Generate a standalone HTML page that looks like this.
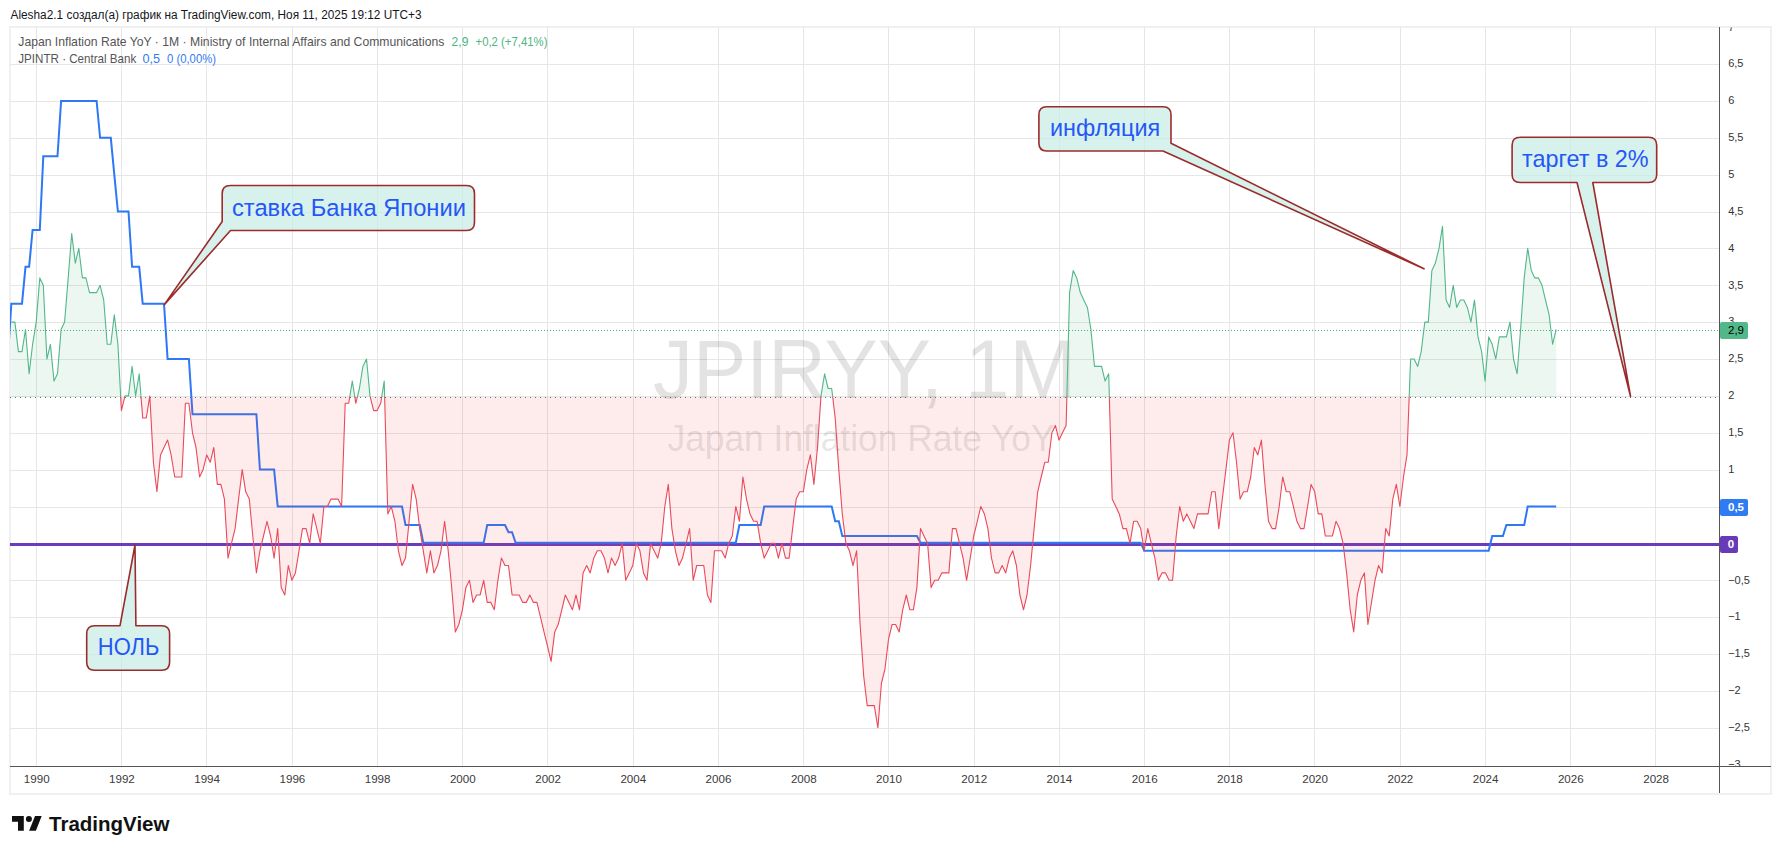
<!DOCTYPE html>
<html><head><meta charset="utf-8"><style>
html,body{margin:0;padding:0;background:#fff;width:1781px;height:854px;overflow:hidden}
svg{position:absolute;left:0;top:0;font-family:"Liberation Sans",sans-serif}
</style></head><body>
<svg width="1781" height="854" viewBox="0 0 1781 854">
<rect x="0" y="0" width="1781" height="854" fill="#fff"/>
<text x="10.5" y="19" font-size="12" fill="#131722" textLength="411" lengthAdjust="spacingAndGlyphs">Alesha2.1 создал(а) график на TradingView.com, Ноя 11, 2025 19:12 UTC+3</text>
<rect x="10" y="27" width="1761" height="767" fill="none" stroke="#f0f0f0" stroke-width="2"/>
<g shape-rendering="crispEdges"><path d="M36.5 27V766M121.5 27V766M206.5 27V766M292.5 27V766M377.5 27V766M462.5 27V766M547.5 27V766M633.5 27V766M718.5 27V766M803.5 27V766M888.5 27V766M974.5 27V766M1059.5 27V766M1144.5 27V766M1229.5 27V766M1314.5 27V766M1400.5 27V766M1485.5 27V766M1570.5 27V766M1655.5 27V766M10 64.5H1719M10 101.5H1719M10 138.5H1719M10 175.5H1719M10 212.5H1719M10 248.5H1719M10 285.5H1719M10 322.5H1719M10 359.5H1719M10 396.5H1719M10 433.5H1719M10 470.5H1719M10 507.5H1719M10 544.5H1719M10 580.5H1719M10 617.5H1719M10 654.5H1719M10 691.5H1719M10 728.5H1719" stroke="#e6e6e6" stroke-width="1" fill="none"/></g>
<text x="653" y="397.7" font-size="83" fill="rgba(0,0,0,0.11)" textLength="423" lengthAdjust="spacingAndGlyphs">JPIRYY, 1M</text>
<text x="667.5" y="450.5" font-size="37.5" fill="rgba(0,0,0,0.11)" textLength="387" lengthAdjust="spacingAndGlyphs">Japan Inflation Rate YoY</text>
<path d="M10 397.5H1719" stroke="#5d6b7e" stroke-width="1" stroke-dasharray="1 4" fill="none" shape-rendering="crispEdges"/>
<path d="M10 330.5H1719" stroke="#4caf7f" stroke-width="1" stroke-dasharray="1 2" fill="none" shape-rendering="crispEdges"/>
<rect x="10" y="543" width="1709" height="3" fill="#6a3bbd"/>
<clipPath id="plot"><rect x="10" y="27" width="1709" height="739"/></clipPath><g clip-path="url(#plot)"><polyline points="7.8,359.0 11.3,303.7 14.9,303.7 18.4,303.7 22.0,303.7 25.5,266.8 29.1,266.8 32.6,230.0 36.2,230.0 39.8,230.0 43.3,156.2 46.9,156.2 50.4,156.2 54.0,156.2 57.5,156.2 61.1,100.9 64.6,100.9 68.2,100.9 71.7,100.9 75.3,100.9 78.8,100.9 82.4,100.9 85.9,100.9 89.5,100.9 93.0,100.9 96.6,100.9 100.1,137.8 103.7,137.8 107.2,137.8 110.8,137.8 114.3,174.6 117.9,211.5 121.4,211.5 125.0,211.5 128.5,211.5 132.1,266.8 135.6,266.8 139.2,266.8 142.7,303.7 146.3,303.7 149.8,303.7 153.4,303.7 156.9,303.7 160.5,303.7 164.0,303.7 167.6,359.0 171.1,359.0 174.7,359.0 178.3,359.0 181.8,359.0 185.4,359.0 188.9,359.0 192.5,414.3 196.0,414.3 199.6,414.3 203.1,414.3 206.7,414.3 210.2,414.3 213.8,414.3 217.3,414.3 220.9,414.3 224.4,414.3 228.0,414.3 231.5,414.3 235.1,414.3 238.6,414.3 242.2,414.3 245.7,414.3 249.3,414.3 252.8,414.3 256.4,414.3 259.9,469.6 263.5,469.6 267.0,469.6 270.6,469.6 274.1,469.6 277.7,506.5 281.2,506.5 284.8,506.5 288.3,506.5 291.9,506.5 295.4,506.5 299.0,506.5 302.5,506.5 306.1,506.5 309.7,506.5 313.2,506.5 316.8,506.5 320.3,506.5 323.9,506.5 327.4,506.5 331.0,506.5 334.5,506.5 338.1,506.5 341.6,506.5 345.2,506.5 348.7,506.5 352.3,506.5 355.8,506.5 359.4,506.5 362.9,506.5 366.5,506.5 370.0,506.5 373.6,506.5 377.1,506.5 380.7,506.5 384.2,506.5 387.8,506.5 391.3,506.5 394.9,506.5 398.4,506.5 402.0,506.5 405.5,525.0 409.1,525.0 412.6,525.0 416.2,525.0 419.7,525.0 423.3,542.7 426.8,542.7 430.4,542.7 433.9,542.7 437.5,542.7 441.0,542.7 444.6,542.7 448.2,542.7 451.7,542.7 455.3,542.7 458.8,542.7 462.4,542.7 465.9,542.7 469.5,542.7 473.0,542.7 476.6,542.7 480.1,542.7 483.7,542.7 487.2,525.0 490.8,525.0 494.3,525.0 497.9,525.0 501.4,525.0 505.0,525.0 508.5,532.3 512.1,532.3 515.6,542.7 519.2,542.7 522.7,542.7 526.3,542.7 529.8,542.7 533.4,542.7 536.9,542.7 540.5,542.7 544.0,542.7 547.6,542.7 551.1,542.7 554.7,542.7 558.2,542.7 561.8,542.7 565.3,542.7 568.9,542.7 572.4,542.7 576.0,542.7 579.5,542.7 583.1,542.7 586.7,542.7 590.2,542.7 593.8,542.7 597.3,542.7 600.9,542.7 604.4,542.7 608.0,542.7 611.5,542.7 615.1,542.7 618.6,542.7 622.2,542.7 625.7,542.7 629.3,542.7 632.8,542.7 636.4,542.7 639.9,542.7 643.5,542.7 647.0,542.7 650.6,542.7 654.1,542.7 657.7,542.7 661.2,542.7 664.8,542.7 668.3,542.7 671.9,542.7 675.4,542.7 679.0,542.7 682.5,542.7 686.1,542.7 689.6,542.7 693.2,542.7 696.7,542.7 700.3,542.7 703.8,542.7 707.4,542.7 710.9,542.7 714.5,542.7 718.0,542.7 721.6,542.7 725.2,542.7 728.7,542.7 732.3,542.7 735.8,542.7 739.4,525.0 742.9,525.0 746.5,525.0 750.0,525.0 753.6,525.0 757.1,525.0 760.7,525.0 764.2,506.5 767.8,506.5 771.3,506.5 774.9,506.5 778.4,506.5 782.0,506.5 785.5,506.5 789.1,506.5 792.6,506.5 796.2,506.5 799.7,506.5 803.3,506.5 806.8,506.5 810.4,506.5 813.9,506.5 817.5,506.5 821.0,506.5 824.6,506.5 828.1,506.5 831.7,506.5 835.2,521.3 838.8,521.3 842.3,536.0 845.9,536.0 849.4,536.0 853.0,536.0 856.6,536.0 860.1,536.0 863.7,536.0 867.2,536.0 870.8,536.0 874.3,536.0 877.9,536.0 881.4,536.0 885.0,536.0 888.5,536.0 892.1,536.0 895.6,536.0 899.2,536.0 902.7,536.0 906.3,536.0 909.8,536.0 913.4,536.0 916.9,536.0 920.5,542.7 924.0,542.7 927.6,542.7 931.1,542.7 934.7,542.7 938.2,542.7 941.8,542.7 945.3,542.7 948.9,542.7 952.4,542.7 956.0,542.7 959.5,542.7 963.1,542.7 966.6,542.7 970.2,542.7 973.7,542.7 977.3,542.7 980.8,542.7 984.4,542.7 987.9,542.7 991.5,542.7 995.1,542.7 998.6,542.7 1002.2,542.7 1005.7,542.7 1009.3,542.7 1012.8,542.7 1016.4,542.7 1019.9,542.7 1023.5,542.7 1027.0,542.7 1030.6,542.7 1034.1,542.7 1037.7,542.7 1041.2,542.7 1044.8,542.7 1048.3,542.7 1051.9,542.7 1055.4,542.7 1059.0,542.7 1062.5,542.7 1066.1,542.7 1069.6,542.7 1073.2,542.7 1076.7,542.7 1080.3,542.7 1083.8,542.7 1087.4,542.7 1090.9,542.7 1094.5,542.7 1098.0,542.7 1101.6,542.7 1105.1,542.7 1108.7,542.7 1112.2,542.7 1115.8,542.7 1119.3,542.7 1122.9,542.7 1126.4,542.7 1130.0,542.7 1133.6,542.7 1137.1,542.7 1140.7,542.7 1144.2,550.8 1147.8,550.8 1151.3,550.8 1154.9,550.8 1158.4,550.8 1162.0,550.8 1165.5,550.8 1169.1,550.8 1172.6,550.8 1176.2,550.8 1179.7,550.8 1183.3,550.8 1186.8,550.8 1190.4,550.8 1193.9,550.8 1197.5,550.8 1201.0,550.8 1204.6,550.8 1208.1,550.8 1211.7,550.8 1215.2,550.8 1218.8,550.8 1222.3,550.8 1225.9,550.8 1229.4,550.8 1233.0,550.8 1236.5,550.8 1240.1,550.8 1243.6,550.8 1247.2,550.8 1250.7,550.8 1254.3,550.8 1257.8,550.8 1261.4,550.8 1264.9,550.8 1268.5,550.8 1272.1,550.8 1275.6,550.8 1279.2,550.8 1282.7,550.8 1286.3,550.8 1289.8,550.8 1293.4,550.8 1296.9,550.8 1300.5,550.8 1304.0,550.8 1307.6,550.8 1311.1,550.8 1314.7,550.8 1318.2,550.8 1321.8,550.8 1325.3,550.8 1328.9,550.8 1332.4,550.8 1336.0,550.8 1339.5,550.8 1343.1,550.8 1346.6,550.8 1350.2,550.8 1353.7,550.8 1357.3,550.8 1360.8,550.8 1364.4,550.8 1367.9,550.8 1371.5,550.8 1375.0,550.8 1378.6,550.8 1382.1,550.8 1385.7,550.8 1389.2,550.8 1392.8,550.8 1396.3,550.8 1399.9,550.8 1403.5,550.8 1407.0,550.8 1410.6,550.8 1414.1,550.8 1417.7,550.8 1421.2,550.8 1424.8,550.8 1428.3,550.8 1431.9,550.8 1435.4,550.8 1439.0,550.8 1442.5,550.8 1446.1,550.8 1449.6,550.8 1453.2,550.8 1456.7,550.8 1460.3,550.8 1463.8,550.8 1467.4,550.8 1470.9,550.8 1474.5,550.8 1478.0,550.8 1481.6,550.8 1485.1,550.8 1488.7,550.8 1492.2,536.0 1495.8,536.0 1499.3,536.0 1502.9,536.0 1506.4,525.0 1510.0,525.0 1513.5,525.0 1517.1,525.0 1520.6,525.0 1524.2,525.0 1527.7,506.5 1531.3,506.5 1534.8,506.5 1538.4,506.5 1542.0,506.5 1545.5,506.5 1549.1,506.5 1552.6,506.5 1556.2,506.5" fill="none" stroke="#2e78f5" stroke-width="2" stroke-linejoin="miter"/></g>
<clipPath id="above"><rect x="10" y="27" width="1709" height="370.0"/></clipPath>
<clipPath id="below"><rect x="10" y="397.0" width="1709" height="369.0"/></clipPath>
<g clip-path="url(#above)"><path d="M11.3,397.0 L11.3,322.1 14.9,322.1 18.4,351.6 22.0,351.6 25.5,329.5 29.1,373.8 32.6,344.3 36.2,322.1 39.8,277.9 43.3,285.3 46.9,359.0 50.4,344.3 54.0,381.1 57.5,373.8 61.1,329.5 64.6,322.1 68.2,277.9 71.7,233.6 75.3,263.1 78.8,248.4 82.4,277.9 85.9,277.9 89.5,292.6 93.0,292.6 96.6,292.6 100.1,285.3 103.7,300.0 107.2,344.3 110.8,344.3 114.3,314.8 117.9,344.3 121.4,410.6 125.0,395.9 128.5,395.9 132.1,366.4 135.6,395.9 139.2,373.8 142.7,418.0 146.3,418.0 149.8,395.9 153.4,462.3 156.9,491.8 160.5,454.9 164.0,447.5 167.6,440.1 171.1,454.9 174.7,477.0 178.3,477.0 181.8,477.0 185.4,403.3 188.9,403.3 192.5,432.8 196.0,447.5 199.6,477.0 203.1,469.6 206.7,454.9 210.2,462.3 213.8,447.5 217.3,484.4 220.9,484.4 224.4,499.1 228.0,558.1 231.5,543.4 235.1,528.6 238.6,499.1 242.2,469.6 245.7,491.8 249.3,499.1 252.8,536.0 256.4,572.9 259.9,550.8 263.5,536.0 267.0,521.3 270.6,536.0 274.1,558.1 277.7,528.6 281.2,587.6 284.8,595.0 288.3,565.5 291.9,580.3 295.4,572.9 299.0,550.8 302.5,528.6 306.1,528.6 309.7,543.4 313.2,513.9 316.8,528.6 320.3,543.4 323.9,506.5 327.4,506.5 331.0,499.1 334.5,499.1 338.1,499.1 341.6,506.5 345.2,403.3 348.7,403.3 352.3,381.1 355.8,403.3 359.4,388.5 362.9,366.4 366.5,359.0 370.0,395.9 373.6,410.6 377.1,410.6 380.7,403.3 384.2,381.1 387.8,513.9 391.3,506.5 394.9,521.3 398.4,550.8 402.0,565.5 405.5,558.1 409.1,521.3 412.6,484.4 416.2,499.1 419.7,528.6 423.3,550.8 426.8,572.9 430.4,550.8 433.9,572.9 437.5,565.5 441.0,550.8 444.6,521.3 448.2,550.8 451.7,587.6 455.3,631.9 458.8,624.5 462.4,609.8 465.9,587.6 469.5,580.3 473.0,602.4 476.6,595.0 480.1,595.0 483.7,580.3 487.2,602.4 490.8,602.4 494.3,609.8 497.9,580.3 501.4,558.1 505.0,565.5 508.5,565.5 512.1,595.0 515.6,595.0 519.2,595.0 522.7,602.4 526.3,602.4 529.8,595.0 533.4,602.4 536.9,602.4 540.5,617.1 544.0,631.9 547.6,646.6 551.1,661.4 554.7,631.9 558.2,624.5 561.8,609.8 565.3,595.0 568.9,602.4 572.4,609.8 576.0,595.0 579.5,609.8 583.1,572.9 586.7,565.5 590.2,572.9 593.8,558.1 597.3,550.8 600.9,550.8 604.4,558.1 608.0,572.9 611.5,558.1 615.1,565.5 618.6,558.1 622.2,543.4 625.7,580.3 629.3,572.9 632.8,565.5 636.4,543.4 639.9,550.8 643.5,572.9 647.0,580.3 650.6,543.4 654.1,550.8 657.7,558.1 661.2,543.4 664.8,506.5 668.3,484.4 671.9,528.6 675.4,550.8 679.0,565.5 682.5,558.1 686.1,543.4 689.6,528.6 693.2,580.3 696.7,565.5 700.3,565.5 703.8,565.5 707.4,595.0 710.9,602.4 714.5,550.8 718.0,550.8 721.6,550.8 725.2,558.1 728.7,543.4 732.3,536.0 735.8,506.5 739.4,521.3 742.9,477.0 746.5,499.1 750.0,513.9 753.6,521.3 757.1,521.3 760.7,543.4 764.2,558.1 767.8,550.8 771.3,543.4 774.9,543.4 778.4,558.1 782.0,543.4 785.5,558.1 789.1,558.1 792.6,528.6 796.2,499.1 799.7,491.8 803.3,491.8 806.8,469.6 810.4,454.9 813.9,484.4 817.5,447.5 821.0,395.9 824.6,373.8 828.1,388.5 831.7,388.5 835.2,418.0 838.8,469.6 842.3,513.9 845.9,543.4 849.4,550.8 853.0,565.5 856.6,550.8 860.1,624.5 863.7,676.1 867.2,705.6 870.8,705.6 874.3,705.6 877.9,727.8 881.4,683.5 885.0,668.8 888.5,639.3 892.1,624.5 895.6,624.5 899.2,631.9 902.7,609.8 906.3,595.0 909.8,609.8 913.4,609.8 916.9,587.6 920.5,528.6 924.0,536.0 927.6,543.4 931.1,587.6 934.7,580.3 938.2,580.3 941.8,572.9 945.3,572.9 948.9,572.9 952.4,528.6 956.0,528.6 959.5,543.4 963.1,558.1 966.6,580.3 970.2,558.1 973.7,536.0 977.3,521.3 980.8,506.5 984.4,513.9 987.9,528.6 991.5,558.1 995.1,572.9 998.6,572.9 1002.2,565.5 1005.7,572.9 1009.3,558.1 1012.8,550.8 1016.4,565.5 1019.9,595.0 1023.5,609.8 1027.0,595.0 1030.6,565.5 1034.1,528.6 1037.7,491.8 1041.2,477.0 1044.8,462.3 1048.3,462.3 1051.9,432.8 1055.4,425.4 1059.0,440.1 1062.5,432.8 1066.1,425.4 1069.6,292.6 1073.2,270.5 1076.7,277.9 1080.3,292.6 1083.8,300.0 1087.4,307.4 1090.9,329.5 1094.5,366.4 1098.0,366.4 1101.6,366.4 1105.1,381.1 1108.7,373.8 1112.2,499.1 1115.8,506.5 1119.3,513.9 1122.9,528.6 1126.4,528.6 1130.0,543.4 1133.6,521.3 1137.1,521.3 1140.7,528.6 1144.2,550.8 1147.8,528.6 1151.3,543.4 1154.9,558.1 1158.4,580.3 1162.0,572.9 1165.5,572.9 1169.1,580.3 1172.6,580.3 1176.2,536.0 1179.7,506.5 1183.3,521.3 1186.8,513.9 1190.4,521.3 1193.9,528.6 1197.5,513.9 1201.0,513.9 1204.6,513.9 1208.1,513.9 1211.7,491.8 1215.2,491.8 1218.8,528.6 1222.3,499.1 1225.9,469.6 1229.4,440.1 1233.0,432.8 1236.5,462.3 1240.1,499.1 1243.6,491.8 1247.2,491.8 1250.7,477.0 1254.3,447.5 1257.8,454.9 1261.4,440.1 1264.9,484.4 1268.5,521.3 1272.1,528.6 1275.6,528.6 1279.2,506.5 1282.7,477.0 1286.3,491.8 1289.8,491.8 1293.4,506.5 1296.9,521.3 1300.5,528.6 1304.0,528.6 1307.6,506.5 1311.1,484.4 1314.7,491.8 1318.2,513.9 1321.8,513.9 1325.3,536.0 1328.9,536.0 1332.4,536.0 1336.0,521.3 1339.5,528.6 1343.1,543.4 1346.6,572.9 1350.2,609.8 1353.7,631.9 1357.3,595.0 1360.8,580.3 1364.4,572.9 1367.9,624.5 1371.5,602.4 1375.0,580.3 1378.6,565.5 1382.1,572.9 1385.7,528.6 1389.2,536.0 1392.8,499.1 1396.3,484.4 1399.9,506.5 1403.5,477.0 1407.0,454.9 1410.6,359.0 1414.1,359.0 1417.7,366.4 1421.2,351.6 1424.8,322.1 1428.3,322.1 1431.9,270.5 1435.4,263.1 1439.0,248.4 1442.5,226.3 1446.1,300.0 1449.6,307.4 1453.2,285.3 1456.7,307.4 1460.3,300.0 1463.8,300.0 1467.4,307.4 1470.9,322.1 1474.5,300.0 1478.0,336.9 1481.6,351.6 1485.1,381.1 1488.7,336.9 1492.2,344.3 1495.8,359.0 1499.3,336.9 1502.9,336.9 1506.4,336.9 1510.0,322.1 1513.5,359.0 1517.1,373.8 1520.6,329.5 1524.2,277.9 1527.7,248.4 1531.3,270.5 1534.8,277.9 1538.4,277.9 1542.0,285.3 1545.5,300.0 1549.1,314.8 1552.6,344.3 1556.2,329.5 L1556.2,397.0 Z" fill="rgba(76,175,120,0.10)"/><polyline points="11.3,322.1 14.9,322.1 18.4,351.6 22.0,351.6 25.5,329.5 29.1,373.8 32.6,344.3 36.2,322.1 39.8,277.9 43.3,285.3 46.9,359.0 50.4,344.3 54.0,381.1 57.5,373.8 61.1,329.5 64.6,322.1 68.2,277.9 71.7,233.6 75.3,263.1 78.8,248.4 82.4,277.9 85.9,277.9 89.5,292.6 93.0,292.6 96.6,292.6 100.1,285.3 103.7,300.0 107.2,344.3 110.8,344.3 114.3,314.8 117.9,344.3 121.4,410.6 125.0,395.9 128.5,395.9 132.1,366.4 135.6,395.9 139.2,373.8 142.7,418.0 146.3,418.0 149.8,395.9 153.4,462.3 156.9,491.8 160.5,454.9 164.0,447.5 167.6,440.1 171.1,454.9 174.7,477.0 178.3,477.0 181.8,477.0 185.4,403.3 188.9,403.3 192.5,432.8 196.0,447.5 199.6,477.0 203.1,469.6 206.7,454.9 210.2,462.3 213.8,447.5 217.3,484.4 220.9,484.4 224.4,499.1 228.0,558.1 231.5,543.4 235.1,528.6 238.6,499.1 242.2,469.6 245.7,491.8 249.3,499.1 252.8,536.0 256.4,572.9 259.9,550.8 263.5,536.0 267.0,521.3 270.6,536.0 274.1,558.1 277.7,528.6 281.2,587.6 284.8,595.0 288.3,565.5 291.9,580.3 295.4,572.9 299.0,550.8 302.5,528.6 306.1,528.6 309.7,543.4 313.2,513.9 316.8,528.6 320.3,543.4 323.9,506.5 327.4,506.5 331.0,499.1 334.5,499.1 338.1,499.1 341.6,506.5 345.2,403.3 348.7,403.3 352.3,381.1 355.8,403.3 359.4,388.5 362.9,366.4 366.5,359.0 370.0,395.9 373.6,410.6 377.1,410.6 380.7,403.3 384.2,381.1 387.8,513.9 391.3,506.5 394.9,521.3 398.4,550.8 402.0,565.5 405.5,558.1 409.1,521.3 412.6,484.4 416.2,499.1 419.7,528.6 423.3,550.8 426.8,572.9 430.4,550.8 433.9,572.9 437.5,565.5 441.0,550.8 444.6,521.3 448.2,550.8 451.7,587.6 455.3,631.9 458.8,624.5 462.4,609.8 465.9,587.6 469.5,580.3 473.0,602.4 476.6,595.0 480.1,595.0 483.7,580.3 487.2,602.4 490.8,602.4 494.3,609.8 497.9,580.3 501.4,558.1 505.0,565.5 508.5,565.5 512.1,595.0 515.6,595.0 519.2,595.0 522.7,602.4 526.3,602.4 529.8,595.0 533.4,602.4 536.9,602.4 540.5,617.1 544.0,631.9 547.6,646.6 551.1,661.4 554.7,631.9 558.2,624.5 561.8,609.8 565.3,595.0 568.9,602.4 572.4,609.8 576.0,595.0 579.5,609.8 583.1,572.9 586.7,565.5 590.2,572.9 593.8,558.1 597.3,550.8 600.9,550.8 604.4,558.1 608.0,572.9 611.5,558.1 615.1,565.5 618.6,558.1 622.2,543.4 625.7,580.3 629.3,572.9 632.8,565.5 636.4,543.4 639.9,550.8 643.5,572.9 647.0,580.3 650.6,543.4 654.1,550.8 657.7,558.1 661.2,543.4 664.8,506.5 668.3,484.4 671.9,528.6 675.4,550.8 679.0,565.5 682.5,558.1 686.1,543.4 689.6,528.6 693.2,580.3 696.7,565.5 700.3,565.5 703.8,565.5 707.4,595.0 710.9,602.4 714.5,550.8 718.0,550.8 721.6,550.8 725.2,558.1 728.7,543.4 732.3,536.0 735.8,506.5 739.4,521.3 742.9,477.0 746.5,499.1 750.0,513.9 753.6,521.3 757.1,521.3 760.7,543.4 764.2,558.1 767.8,550.8 771.3,543.4 774.9,543.4 778.4,558.1 782.0,543.4 785.5,558.1 789.1,558.1 792.6,528.6 796.2,499.1 799.7,491.8 803.3,491.8 806.8,469.6 810.4,454.9 813.9,484.4 817.5,447.5 821.0,395.9 824.6,373.8 828.1,388.5 831.7,388.5 835.2,418.0 838.8,469.6 842.3,513.9 845.9,543.4 849.4,550.8 853.0,565.5 856.6,550.8 860.1,624.5 863.7,676.1 867.2,705.6 870.8,705.6 874.3,705.6 877.9,727.8 881.4,683.5 885.0,668.8 888.5,639.3 892.1,624.5 895.6,624.5 899.2,631.9 902.7,609.8 906.3,595.0 909.8,609.8 913.4,609.8 916.9,587.6 920.5,528.6 924.0,536.0 927.6,543.4 931.1,587.6 934.7,580.3 938.2,580.3 941.8,572.9 945.3,572.9 948.9,572.9 952.4,528.6 956.0,528.6 959.5,543.4 963.1,558.1 966.6,580.3 970.2,558.1 973.7,536.0 977.3,521.3 980.8,506.5 984.4,513.9 987.9,528.6 991.5,558.1 995.1,572.9 998.6,572.9 1002.2,565.5 1005.7,572.9 1009.3,558.1 1012.8,550.8 1016.4,565.5 1019.9,595.0 1023.5,609.8 1027.0,595.0 1030.6,565.5 1034.1,528.6 1037.7,491.8 1041.2,477.0 1044.8,462.3 1048.3,462.3 1051.9,432.8 1055.4,425.4 1059.0,440.1 1062.5,432.8 1066.1,425.4 1069.6,292.6 1073.2,270.5 1076.7,277.9 1080.3,292.6 1083.8,300.0 1087.4,307.4 1090.9,329.5 1094.5,366.4 1098.0,366.4 1101.6,366.4 1105.1,381.1 1108.7,373.8 1112.2,499.1 1115.8,506.5 1119.3,513.9 1122.9,528.6 1126.4,528.6 1130.0,543.4 1133.6,521.3 1137.1,521.3 1140.7,528.6 1144.2,550.8 1147.8,528.6 1151.3,543.4 1154.9,558.1 1158.4,580.3 1162.0,572.9 1165.5,572.9 1169.1,580.3 1172.6,580.3 1176.2,536.0 1179.7,506.5 1183.3,521.3 1186.8,513.9 1190.4,521.3 1193.9,528.6 1197.5,513.9 1201.0,513.9 1204.6,513.9 1208.1,513.9 1211.7,491.8 1215.2,491.8 1218.8,528.6 1222.3,499.1 1225.9,469.6 1229.4,440.1 1233.0,432.8 1236.5,462.3 1240.1,499.1 1243.6,491.8 1247.2,491.8 1250.7,477.0 1254.3,447.5 1257.8,454.9 1261.4,440.1 1264.9,484.4 1268.5,521.3 1272.1,528.6 1275.6,528.6 1279.2,506.5 1282.7,477.0 1286.3,491.8 1289.8,491.8 1293.4,506.5 1296.9,521.3 1300.5,528.6 1304.0,528.6 1307.6,506.5 1311.1,484.4 1314.7,491.8 1318.2,513.9 1321.8,513.9 1325.3,536.0 1328.9,536.0 1332.4,536.0 1336.0,521.3 1339.5,528.6 1343.1,543.4 1346.6,572.9 1350.2,609.8 1353.7,631.9 1357.3,595.0 1360.8,580.3 1364.4,572.9 1367.9,624.5 1371.5,602.4 1375.0,580.3 1378.6,565.5 1382.1,572.9 1385.7,528.6 1389.2,536.0 1392.8,499.1 1396.3,484.4 1399.9,506.5 1403.5,477.0 1407.0,454.9 1410.6,359.0 1414.1,359.0 1417.7,366.4 1421.2,351.6 1424.8,322.1 1428.3,322.1 1431.9,270.5 1435.4,263.1 1439.0,248.4 1442.5,226.3 1446.1,300.0 1449.6,307.4 1453.2,285.3 1456.7,307.4 1460.3,300.0 1463.8,300.0 1467.4,307.4 1470.9,322.1 1474.5,300.0 1478.0,336.9 1481.6,351.6 1485.1,381.1 1488.7,336.9 1492.2,344.3 1495.8,359.0 1499.3,336.9 1502.9,336.9 1506.4,336.9 1510.0,322.1 1513.5,359.0 1517.1,373.8 1520.6,329.5 1524.2,277.9 1527.7,248.4 1531.3,270.5 1534.8,277.9 1538.4,277.9 1542.0,285.3 1545.5,300.0 1549.1,314.8 1552.6,344.3 1556.2,329.5" fill="none" stroke="#52b78a" stroke-width="1.1" stroke-linejoin="round"/></g>
<g clip-path="url(#below)"><path d="M11.3,397.0 L11.3,322.1 14.9,322.1 18.4,351.6 22.0,351.6 25.5,329.5 29.1,373.8 32.6,344.3 36.2,322.1 39.8,277.9 43.3,285.3 46.9,359.0 50.4,344.3 54.0,381.1 57.5,373.8 61.1,329.5 64.6,322.1 68.2,277.9 71.7,233.6 75.3,263.1 78.8,248.4 82.4,277.9 85.9,277.9 89.5,292.6 93.0,292.6 96.6,292.6 100.1,285.3 103.7,300.0 107.2,344.3 110.8,344.3 114.3,314.8 117.9,344.3 121.4,410.6 125.0,395.9 128.5,395.9 132.1,366.4 135.6,395.9 139.2,373.8 142.7,418.0 146.3,418.0 149.8,395.9 153.4,462.3 156.9,491.8 160.5,454.9 164.0,447.5 167.6,440.1 171.1,454.9 174.7,477.0 178.3,477.0 181.8,477.0 185.4,403.3 188.9,403.3 192.5,432.8 196.0,447.5 199.6,477.0 203.1,469.6 206.7,454.9 210.2,462.3 213.8,447.5 217.3,484.4 220.9,484.4 224.4,499.1 228.0,558.1 231.5,543.4 235.1,528.6 238.6,499.1 242.2,469.6 245.7,491.8 249.3,499.1 252.8,536.0 256.4,572.9 259.9,550.8 263.5,536.0 267.0,521.3 270.6,536.0 274.1,558.1 277.7,528.6 281.2,587.6 284.8,595.0 288.3,565.5 291.9,580.3 295.4,572.9 299.0,550.8 302.5,528.6 306.1,528.6 309.7,543.4 313.2,513.9 316.8,528.6 320.3,543.4 323.9,506.5 327.4,506.5 331.0,499.1 334.5,499.1 338.1,499.1 341.6,506.5 345.2,403.3 348.7,403.3 352.3,381.1 355.8,403.3 359.4,388.5 362.9,366.4 366.5,359.0 370.0,395.9 373.6,410.6 377.1,410.6 380.7,403.3 384.2,381.1 387.8,513.9 391.3,506.5 394.9,521.3 398.4,550.8 402.0,565.5 405.5,558.1 409.1,521.3 412.6,484.4 416.2,499.1 419.7,528.6 423.3,550.8 426.8,572.9 430.4,550.8 433.9,572.9 437.5,565.5 441.0,550.8 444.6,521.3 448.2,550.8 451.7,587.6 455.3,631.9 458.8,624.5 462.4,609.8 465.9,587.6 469.5,580.3 473.0,602.4 476.6,595.0 480.1,595.0 483.7,580.3 487.2,602.4 490.8,602.4 494.3,609.8 497.9,580.3 501.4,558.1 505.0,565.5 508.5,565.5 512.1,595.0 515.6,595.0 519.2,595.0 522.7,602.4 526.3,602.4 529.8,595.0 533.4,602.4 536.9,602.4 540.5,617.1 544.0,631.9 547.6,646.6 551.1,661.4 554.7,631.9 558.2,624.5 561.8,609.8 565.3,595.0 568.9,602.4 572.4,609.8 576.0,595.0 579.5,609.8 583.1,572.9 586.7,565.5 590.2,572.9 593.8,558.1 597.3,550.8 600.9,550.8 604.4,558.1 608.0,572.9 611.5,558.1 615.1,565.5 618.6,558.1 622.2,543.4 625.7,580.3 629.3,572.9 632.8,565.5 636.4,543.4 639.9,550.8 643.5,572.9 647.0,580.3 650.6,543.4 654.1,550.8 657.7,558.1 661.2,543.4 664.8,506.5 668.3,484.4 671.9,528.6 675.4,550.8 679.0,565.5 682.5,558.1 686.1,543.4 689.6,528.6 693.2,580.3 696.7,565.5 700.3,565.5 703.8,565.5 707.4,595.0 710.9,602.4 714.5,550.8 718.0,550.8 721.6,550.8 725.2,558.1 728.7,543.4 732.3,536.0 735.8,506.5 739.4,521.3 742.9,477.0 746.5,499.1 750.0,513.9 753.6,521.3 757.1,521.3 760.7,543.4 764.2,558.1 767.8,550.8 771.3,543.4 774.9,543.4 778.4,558.1 782.0,543.4 785.5,558.1 789.1,558.1 792.6,528.6 796.2,499.1 799.7,491.8 803.3,491.8 806.8,469.6 810.4,454.9 813.9,484.4 817.5,447.5 821.0,395.9 824.6,373.8 828.1,388.5 831.7,388.5 835.2,418.0 838.8,469.6 842.3,513.9 845.9,543.4 849.4,550.8 853.0,565.5 856.6,550.8 860.1,624.5 863.7,676.1 867.2,705.6 870.8,705.6 874.3,705.6 877.9,727.8 881.4,683.5 885.0,668.8 888.5,639.3 892.1,624.5 895.6,624.5 899.2,631.9 902.7,609.8 906.3,595.0 909.8,609.8 913.4,609.8 916.9,587.6 920.5,528.6 924.0,536.0 927.6,543.4 931.1,587.6 934.7,580.3 938.2,580.3 941.8,572.9 945.3,572.9 948.9,572.9 952.4,528.6 956.0,528.6 959.5,543.4 963.1,558.1 966.6,580.3 970.2,558.1 973.7,536.0 977.3,521.3 980.8,506.5 984.4,513.9 987.9,528.6 991.5,558.1 995.1,572.9 998.6,572.9 1002.2,565.5 1005.7,572.9 1009.3,558.1 1012.8,550.8 1016.4,565.5 1019.9,595.0 1023.5,609.8 1027.0,595.0 1030.6,565.5 1034.1,528.6 1037.7,491.8 1041.2,477.0 1044.8,462.3 1048.3,462.3 1051.9,432.8 1055.4,425.4 1059.0,440.1 1062.5,432.8 1066.1,425.4 1069.6,292.6 1073.2,270.5 1076.7,277.9 1080.3,292.6 1083.8,300.0 1087.4,307.4 1090.9,329.5 1094.5,366.4 1098.0,366.4 1101.6,366.4 1105.1,381.1 1108.7,373.8 1112.2,499.1 1115.8,506.5 1119.3,513.9 1122.9,528.6 1126.4,528.6 1130.0,543.4 1133.6,521.3 1137.1,521.3 1140.7,528.6 1144.2,550.8 1147.8,528.6 1151.3,543.4 1154.9,558.1 1158.4,580.3 1162.0,572.9 1165.5,572.9 1169.1,580.3 1172.6,580.3 1176.2,536.0 1179.7,506.5 1183.3,521.3 1186.8,513.9 1190.4,521.3 1193.9,528.6 1197.5,513.9 1201.0,513.9 1204.6,513.9 1208.1,513.9 1211.7,491.8 1215.2,491.8 1218.8,528.6 1222.3,499.1 1225.9,469.6 1229.4,440.1 1233.0,432.8 1236.5,462.3 1240.1,499.1 1243.6,491.8 1247.2,491.8 1250.7,477.0 1254.3,447.5 1257.8,454.9 1261.4,440.1 1264.9,484.4 1268.5,521.3 1272.1,528.6 1275.6,528.6 1279.2,506.5 1282.7,477.0 1286.3,491.8 1289.8,491.8 1293.4,506.5 1296.9,521.3 1300.5,528.6 1304.0,528.6 1307.6,506.5 1311.1,484.4 1314.7,491.8 1318.2,513.9 1321.8,513.9 1325.3,536.0 1328.9,536.0 1332.4,536.0 1336.0,521.3 1339.5,528.6 1343.1,543.4 1346.6,572.9 1350.2,609.8 1353.7,631.9 1357.3,595.0 1360.8,580.3 1364.4,572.9 1367.9,624.5 1371.5,602.4 1375.0,580.3 1378.6,565.5 1382.1,572.9 1385.7,528.6 1389.2,536.0 1392.8,499.1 1396.3,484.4 1399.9,506.5 1403.5,477.0 1407.0,454.9 1410.6,359.0 1414.1,359.0 1417.7,366.4 1421.2,351.6 1424.8,322.1 1428.3,322.1 1431.9,270.5 1435.4,263.1 1439.0,248.4 1442.5,226.3 1446.1,300.0 1449.6,307.4 1453.2,285.3 1456.7,307.4 1460.3,300.0 1463.8,300.0 1467.4,307.4 1470.9,322.1 1474.5,300.0 1478.0,336.9 1481.6,351.6 1485.1,381.1 1488.7,336.9 1492.2,344.3 1495.8,359.0 1499.3,336.9 1502.9,336.9 1506.4,336.9 1510.0,322.1 1513.5,359.0 1517.1,373.8 1520.6,329.5 1524.2,277.9 1527.7,248.4 1531.3,270.5 1534.8,277.9 1538.4,277.9 1542.0,285.3 1545.5,300.0 1549.1,314.8 1552.6,344.3 1556.2,329.5 L1556.2,397.0 Z" fill="rgba(242,54,69,0.10)"/><polyline points="11.3,322.1 14.9,322.1 18.4,351.6 22.0,351.6 25.5,329.5 29.1,373.8 32.6,344.3 36.2,322.1 39.8,277.9 43.3,285.3 46.9,359.0 50.4,344.3 54.0,381.1 57.5,373.8 61.1,329.5 64.6,322.1 68.2,277.9 71.7,233.6 75.3,263.1 78.8,248.4 82.4,277.9 85.9,277.9 89.5,292.6 93.0,292.6 96.6,292.6 100.1,285.3 103.7,300.0 107.2,344.3 110.8,344.3 114.3,314.8 117.9,344.3 121.4,410.6 125.0,395.9 128.5,395.9 132.1,366.4 135.6,395.9 139.2,373.8 142.7,418.0 146.3,418.0 149.8,395.9 153.4,462.3 156.9,491.8 160.5,454.9 164.0,447.5 167.6,440.1 171.1,454.9 174.7,477.0 178.3,477.0 181.8,477.0 185.4,403.3 188.9,403.3 192.5,432.8 196.0,447.5 199.6,477.0 203.1,469.6 206.7,454.9 210.2,462.3 213.8,447.5 217.3,484.4 220.9,484.4 224.4,499.1 228.0,558.1 231.5,543.4 235.1,528.6 238.6,499.1 242.2,469.6 245.7,491.8 249.3,499.1 252.8,536.0 256.4,572.9 259.9,550.8 263.5,536.0 267.0,521.3 270.6,536.0 274.1,558.1 277.7,528.6 281.2,587.6 284.8,595.0 288.3,565.5 291.9,580.3 295.4,572.9 299.0,550.8 302.5,528.6 306.1,528.6 309.7,543.4 313.2,513.9 316.8,528.6 320.3,543.4 323.9,506.5 327.4,506.5 331.0,499.1 334.5,499.1 338.1,499.1 341.6,506.5 345.2,403.3 348.7,403.3 352.3,381.1 355.8,403.3 359.4,388.5 362.9,366.4 366.5,359.0 370.0,395.9 373.6,410.6 377.1,410.6 380.7,403.3 384.2,381.1 387.8,513.9 391.3,506.5 394.9,521.3 398.4,550.8 402.0,565.5 405.5,558.1 409.1,521.3 412.6,484.4 416.2,499.1 419.7,528.6 423.3,550.8 426.8,572.9 430.4,550.8 433.9,572.9 437.5,565.5 441.0,550.8 444.6,521.3 448.2,550.8 451.7,587.6 455.3,631.9 458.8,624.5 462.4,609.8 465.9,587.6 469.5,580.3 473.0,602.4 476.6,595.0 480.1,595.0 483.7,580.3 487.2,602.4 490.8,602.4 494.3,609.8 497.9,580.3 501.4,558.1 505.0,565.5 508.5,565.5 512.1,595.0 515.6,595.0 519.2,595.0 522.7,602.4 526.3,602.4 529.8,595.0 533.4,602.4 536.9,602.4 540.5,617.1 544.0,631.9 547.6,646.6 551.1,661.4 554.7,631.9 558.2,624.5 561.8,609.8 565.3,595.0 568.9,602.4 572.4,609.8 576.0,595.0 579.5,609.8 583.1,572.9 586.7,565.5 590.2,572.9 593.8,558.1 597.3,550.8 600.9,550.8 604.4,558.1 608.0,572.9 611.5,558.1 615.1,565.5 618.6,558.1 622.2,543.4 625.7,580.3 629.3,572.9 632.8,565.5 636.4,543.4 639.9,550.8 643.5,572.9 647.0,580.3 650.6,543.4 654.1,550.8 657.7,558.1 661.2,543.4 664.8,506.5 668.3,484.4 671.9,528.6 675.4,550.8 679.0,565.5 682.5,558.1 686.1,543.4 689.6,528.6 693.2,580.3 696.7,565.5 700.3,565.5 703.8,565.5 707.4,595.0 710.9,602.4 714.5,550.8 718.0,550.8 721.6,550.8 725.2,558.1 728.7,543.4 732.3,536.0 735.8,506.5 739.4,521.3 742.9,477.0 746.5,499.1 750.0,513.9 753.6,521.3 757.1,521.3 760.7,543.4 764.2,558.1 767.8,550.8 771.3,543.4 774.9,543.4 778.4,558.1 782.0,543.4 785.5,558.1 789.1,558.1 792.6,528.6 796.2,499.1 799.7,491.8 803.3,491.8 806.8,469.6 810.4,454.9 813.9,484.4 817.5,447.5 821.0,395.9 824.6,373.8 828.1,388.5 831.7,388.5 835.2,418.0 838.8,469.6 842.3,513.9 845.9,543.4 849.4,550.8 853.0,565.5 856.6,550.8 860.1,624.5 863.7,676.1 867.2,705.6 870.8,705.6 874.3,705.6 877.9,727.8 881.4,683.5 885.0,668.8 888.5,639.3 892.1,624.5 895.6,624.5 899.2,631.9 902.7,609.8 906.3,595.0 909.8,609.8 913.4,609.8 916.9,587.6 920.5,528.6 924.0,536.0 927.6,543.4 931.1,587.6 934.7,580.3 938.2,580.3 941.8,572.9 945.3,572.9 948.9,572.9 952.4,528.6 956.0,528.6 959.5,543.4 963.1,558.1 966.6,580.3 970.2,558.1 973.7,536.0 977.3,521.3 980.8,506.5 984.4,513.9 987.9,528.6 991.5,558.1 995.1,572.9 998.6,572.9 1002.2,565.5 1005.7,572.9 1009.3,558.1 1012.8,550.8 1016.4,565.5 1019.9,595.0 1023.5,609.8 1027.0,595.0 1030.6,565.5 1034.1,528.6 1037.7,491.8 1041.2,477.0 1044.8,462.3 1048.3,462.3 1051.9,432.8 1055.4,425.4 1059.0,440.1 1062.5,432.8 1066.1,425.4 1069.6,292.6 1073.2,270.5 1076.7,277.9 1080.3,292.6 1083.8,300.0 1087.4,307.4 1090.9,329.5 1094.5,366.4 1098.0,366.4 1101.6,366.4 1105.1,381.1 1108.7,373.8 1112.2,499.1 1115.8,506.5 1119.3,513.9 1122.9,528.6 1126.4,528.6 1130.0,543.4 1133.6,521.3 1137.1,521.3 1140.7,528.6 1144.2,550.8 1147.8,528.6 1151.3,543.4 1154.9,558.1 1158.4,580.3 1162.0,572.9 1165.5,572.9 1169.1,580.3 1172.6,580.3 1176.2,536.0 1179.7,506.5 1183.3,521.3 1186.8,513.9 1190.4,521.3 1193.9,528.6 1197.5,513.9 1201.0,513.9 1204.6,513.9 1208.1,513.9 1211.7,491.8 1215.2,491.8 1218.8,528.6 1222.3,499.1 1225.9,469.6 1229.4,440.1 1233.0,432.8 1236.5,462.3 1240.1,499.1 1243.6,491.8 1247.2,491.8 1250.7,477.0 1254.3,447.5 1257.8,454.9 1261.4,440.1 1264.9,484.4 1268.5,521.3 1272.1,528.6 1275.6,528.6 1279.2,506.5 1282.7,477.0 1286.3,491.8 1289.8,491.8 1293.4,506.5 1296.9,521.3 1300.5,528.6 1304.0,528.6 1307.6,506.5 1311.1,484.4 1314.7,491.8 1318.2,513.9 1321.8,513.9 1325.3,536.0 1328.9,536.0 1332.4,536.0 1336.0,521.3 1339.5,528.6 1343.1,543.4 1346.6,572.9 1350.2,609.8 1353.7,631.9 1357.3,595.0 1360.8,580.3 1364.4,572.9 1367.9,624.5 1371.5,602.4 1375.0,580.3 1378.6,565.5 1382.1,572.9 1385.7,528.6 1389.2,536.0 1392.8,499.1 1396.3,484.4 1399.9,506.5 1403.5,477.0 1407.0,454.9 1410.6,359.0 1414.1,359.0 1417.7,366.4 1421.2,351.6 1424.8,322.1 1428.3,322.1 1431.9,270.5 1435.4,263.1 1439.0,248.4 1442.5,226.3 1446.1,300.0 1449.6,307.4 1453.2,285.3 1456.7,307.4 1460.3,300.0 1463.8,300.0 1467.4,307.4 1470.9,322.1 1474.5,300.0 1478.0,336.9 1481.6,351.6 1485.1,381.1 1488.7,336.9 1492.2,344.3 1495.8,359.0 1499.3,336.9 1502.9,336.9 1506.4,336.9 1510.0,322.1 1513.5,359.0 1517.1,373.8 1520.6,329.5 1524.2,277.9 1527.7,248.4 1531.3,270.5 1534.8,277.9 1538.4,277.9 1542.0,285.3 1545.5,300.0 1549.1,314.8 1552.6,344.3 1556.2,329.5" fill="none" stroke="#ea4a5a" stroke-width="1.1" stroke-linejoin="round"/></g>

<g font-size="11.6" fill="#3a3a3a"><text x="36.7" y="782.5" text-anchor="middle">1990</text><text x="121.9" y="782.5" text-anchor="middle">1992</text><text x="207.1" y="782.5" text-anchor="middle">1994</text><text x="292.4" y="782.5" text-anchor="middle">1996</text><text x="377.6" y="782.5" text-anchor="middle">1998</text><text x="462.8" y="782.5" text-anchor="middle">2000</text><text x="548.1" y="782.5" text-anchor="middle">2002</text><text x="633.3" y="782.5" text-anchor="middle">2004</text><text x="718.5" y="782.5" text-anchor="middle">2006</text><text x="803.8" y="782.5" text-anchor="middle">2008</text><text x="889.0" y="782.5" text-anchor="middle">2010</text><text x="974.2" y="782.5" text-anchor="middle">2012</text><text x="1059.4" y="782.5" text-anchor="middle">2014</text><text x="1144.7" y="782.5" text-anchor="middle">2016</text><text x="1229.9" y="782.5" text-anchor="middle">2018</text><text x="1315.1" y="782.5" text-anchor="middle">2020</text><text x="1400.4" y="782.5" text-anchor="middle">2022</text><text x="1485.6" y="782.5" text-anchor="middle">2024</text><text x="1570.8" y="782.5" text-anchor="middle">2026</text><text x="1656.1" y="782.5" text-anchor="middle">2028</text></g>
<g shape-rendering="crispEdges"><path d="M1719.5 27V793M10 766.5H1771" stroke="#555" stroke-width="1"/></g>
<clipPath id="yax"><rect x="1720" y="27.5" width="51" height="738.5"/></clipPath><g font-size="11" fill="#333" clip-path="url(#yax)"><text x="1728.2" y="767.9">−3</text><text x="1728.2" y="731.0">−2,5</text><text x="1728.2" y="694.1">−2</text><text x="1728.2" y="657.2">−1,5</text><text x="1728.2" y="620.4">−1</text><text x="1728.2" y="583.5">−0,5</text><text x="1728.2" y="546.6">0</text><text x="1728.2" y="509.7">0,5</text><text x="1728.2" y="472.8">1</text><text x="1728.2" y="436.0">1,5</text><text x="1728.2" y="399.1">2</text><text x="1728.2" y="362.2">2,5</text><text x="1728.2" y="325.3">3</text><text x="1728.2" y="288.5">3,5</text><text x="1728.2" y="251.6">4</text><text x="1728.2" y="214.7">4,5</text><text x="1728.2" y="177.8">5</text><text x="1728.2" y="141.0">5,5</text><text x="1728.2" y="104.1">6</text><text x="1728.2" y="67.2">6,5</text><text x="1728.2" y="31.3">7</text></g>
<rect x="1720" y="322" width="28" height="17" rx="2" fill="#52b889"/>
<text x="1728" y="333.8" font-size="11.5" fill="#000">2,9</text>
<rect x="1720" y="499" width="28" height="17" rx="2" fill="#2f7bf4"/>
<text x="1728" y="511" font-size="11.5" fill="#fff" font-weight="bold">0,5</text>
<rect x="1720" y="536" width="18" height="17" rx="2" fill="#673ab7"/>
<text x="1727.8" y="548" font-size="11.5" fill="#fff" font-weight="bold">0</text>
<text x="18.3" y="45.7" font-size="12.17" fill="#555" textLength="426" lengthAdjust="spacingAndGlyphs">Japan Inflation Rate YoY · 1M · Ministry of Internal Affairs and Communications</text>
<text x="451.6" y="45.7" font-size="12.17" fill="#4fb583">2,9</text>
<text x="475.5" y="45.7" font-size="12.17" fill="#4fb583" textLength="72" lengthAdjust="spacingAndGlyphs">+0,2 (+7,41%)</text>
<text x="18.3" y="62.7" font-size="12.17" fill="#555" textLength="118" lengthAdjust="spacingAndGlyphs">JPINTR · Central Bank</text>
<text x="142.5" y="62.7" font-size="12.17" fill="#2f7bf4" textLength="17.5" lengthAdjust="spacingAndGlyphs">0,5</text>
<text x="167" y="62.7" font-size="12.17" fill="#2f7bf4" textLength="49" lengthAdjust="spacingAndGlyphs">0 (0,00%)</text>
<path d="M230,185.5 H466.5 Q474.5,185.5 474.5,193.5 V222.5 Q474.5,230.5 466.5,230.5 H230.5 L164.3,304.6 L222.2,221.5 V193.5 Q222.2,185.5 230.2,185.5 Z" fill="rgba(200,236,228,0.72)" stroke="#9c2b2b" stroke-width="1.6" stroke-linejoin="round"/><path d="M1046.7,106.7 H1163 Q1171,106.7 1171,114.7 V143.3 L1424,268.8 L1163,151 H1046.7 Q1038.9,151 1038.9,143 V114.7 Q1038.9,106.7 1046.7,106.7 Z" fill="rgba(200,236,228,0.72)" stroke="#9c2b2b" stroke-width="1.6" stroke-linejoin="round"/><path d="M1520,137.2 H1648.7 Q1656.7,137.2 1656.7,145.2 V174.5 Q1656.7,182.5 1648.7,182.5 H1592.8 L1630.5,396.2 L1577,182.5 H1520.1 Q1512.1,182.5 1512.1,174.5 V145.2 Q1512.1,137.2 1520.1,137.2 Z" fill="rgba(200,236,228,0.72)" stroke="#9c2b2b" stroke-width="1.6" stroke-linejoin="round"/><path d="M94.7,625.7 H120 L135,545 L135.9,625.7 H161.6 Q169.6,625.7 169.6,633.7 V662.2 Q169.6,670.2 161.6,670.2 H94.7 Q86.7,670.2 86.7,662.2 V633.7 Q86.7,625.7 94.7,625.7 Z" fill="rgba(200,236,228,0.72)" stroke="#9c2b2b" stroke-width="1.6" stroke-linejoin="round"/>
<g font-size="23.4" fill="#2457f8">
<text x="232" y="215.5" font-size="23.7">ставка Банка Японии</text>
<text x="1050" y="136">инфляция</text>
<text x="1522" y="167">таргет в 2%</text>
<text x="97.8" y="655" textLength="61.5" lengthAdjust="spacingAndGlyphs">НОЛЬ</text>
</g>
<path d="M12 816H23.8V830.7H18V821.7H12Z" fill="#111"/>
<circle cx="28.9" cy="819" r="3" fill="#111"/>
<path d="M35.05 816H41.7L35.9 830.7H29.1Z" fill="#111"/>
<text x="49" y="831" font-size="20.4" font-weight="bold" fill="#111" textLength="120.5" lengthAdjust="spacingAndGlyphs">TradingView</text>
</svg>
</body></html>
